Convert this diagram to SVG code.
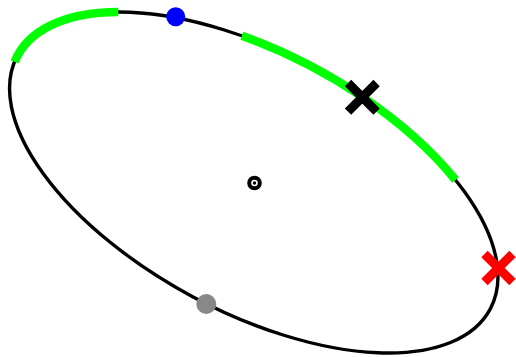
<svg xmlns="http://www.w3.org/2000/svg" width="516" height="357" viewBox="0 0 516 357">
  <style>
    .orbit { fill: none; stroke: #000; stroke-width: 3.4; }
    .arc { fill: none; stroke: #00ff00; stroke-width: 8.5; stroke-linecap: butt; }
    .cross { stroke-width: 9; stroke-linecap: butt; fill: none; }
  </style>
  <rect x="0" y="0" width="516" height="357" fill="#fff"/>
  <g id="connectors">
    <ellipse class="orbit" cx="253.75" cy="182.5" rx="268.2" ry="129.5" transform="rotate(28.17 253.75 182.5)"/>
    <path class="arc" d="M 14.55 61.8 A 268.2 129.5 28.17 0 1 118.3 12"/>
    <path class="arc" d="M 241.8 35.8 A 268.2 129.5 28.17 0 1 455.5 180"/>
  </g>
  <g id="sun">
    <circle cx="254.5" cy="183" r="5.3" fill="#fff" stroke="#000" stroke-width="4"/>
    <circle cx="254.5" cy="183" r="1.7" fill="#000"/>
  </g>
  <g id="blue-body">
    <circle cx="175.7" cy="16.8" r="9.5" fill="#0000ff"/>
  </g>
  <g id="gray-body">
    <circle cx="206.3" cy="304" r="10" fill="#888888"/>
  </g>
  <g id="black-cross">
    <path class="cross" stroke="#000" d="M 348 83 L 376.6 111.6 M 376.6 83 L 348 111.6"/>
  </g>
  <g id="red-cross">
    <path class="cross" stroke="#ff0000" d="M 484.5 254 L 512.5 282 M 512.5 254 L 484.5 282"/>
  </g>
</svg>
